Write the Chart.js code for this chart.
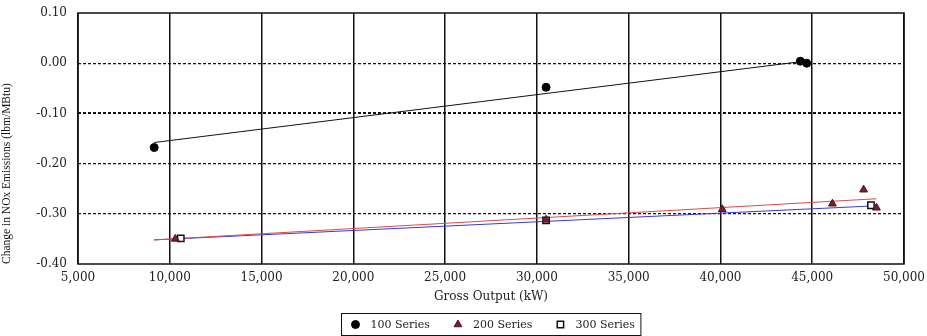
<!DOCTYPE html>
<html>
<head>
<meta charset="utf-8">
<script src="https://cdn.jsdelivr.net/npm/chart.js@4.4.1/dist/chart.umd.min.js"></script>
<style>
  html, body { margin: 0; padding: 0; background: #fff; }
  #wrap { width: 927px; height: 336px; }
</style>
</head>
<body>
<div id="wrap"><canvas id="noxChart" width="927" height="336"></canvas></div>
<script>
/* data */
const s100X = [9150, 30500, 44350, 44700];
const s100Y = [-0.168, -0.048, 0.004, 0.000];
const s200X = [10300, 30500, 40100, 46100, 47800, 48500];
const s200Y = [-0.350, -0.312, -0.291, -0.280, -0.252, -0.288];
const s300X = [10600, 30500, 48200];
const s300Y = [-0.349, -0.313, -0.283];

/* trend line end points */
const t100X = [9150, 44800];
const t100Y = [-0.158, 0.005];
const t200X = [9150, 48500];
const t200Y = [-0.352, -0.270];
const t300X = [9150, 48500];
const t300Y = [-0.352, -0.284];

const xTicks = [5000, 10000, 15000, 20000, 25000, 30000, 35000, 40000, 45000, 50000];
const yTicks = [0.10, 0.00, -0.10, -0.20, -0.30, -0.40];

const pts = (xs, ys) => xs.map((x, i) => ({ x: x, y: ys[i] }));

const serif = "'DejaVu Serif', serif";
const ink = '#222';

/* box around the plot area */
const frame = {
  id: 'frame',
  beforeDatasetsDraw(chart) {
    const a = chart.chartArea, ctx = chart.ctx;
    ctx.save();
    ctx.strokeStyle = '#111';
    ctx.lineWidth = 1.5;
    ctx.strokeRect(a.left, a.top, a.right - a.left, a.bottom - a.top);
    ctx.restore();
  }
};

/* boxed legend under the axis title */
const boxLegend = {
  id: 'boxLegend',
  afterDraw(chart) {
    const ctx = chart.ctx;
    const items = chart.data.datasets.filter(d => d.showInLegend);
    ctx.save();
    ctx.font = '11px ' + serif;
    const gapMark = 15, gapItem = 28, padL = 14, padR = 6;
    let total = padL + padR;
    items.forEach((d, i) => {
      total += gapMark + ctx.measureText(d.label).width;
      if (i < items.length - 1) total += gapItem;
    });
    const cx = (chart.chartArea.left + chart.chartArea.right) / 2;
    const left = Math.round(cx - total / 2) + 0.5, top = 313.5, h = 22;
    ctx.strokeStyle = '#111';
    ctx.lineWidth = 1;
    ctx.strokeRect(left, top, total, h);
    let x = left + padL;
    const y = top + h / 2;
    items.forEach(d => {
      ctx.fillStyle = d.backgroundColor;
      ctx.strokeStyle = d.borderColor;
      ctx.lineWidth = d.pointBorderWidth || 1;
      Chart.helpers.drawPoint(ctx, { pointStyle: d.pointStyle, radius: d.pointRadius, rotation: 0, borderWidth: ctx.lineWidth }, x, y);
      ctx.fillStyle = ink;
      ctx.textBaseline = 'middle';
      ctx.textAlign = 'left';
      ctx.fillText(d.label, x + gapMark, y + 1);
      x += gapMark + ctx.measureText(d.label).width + gapItem;
    });
    ctx.restore();
  }
};

const trend = (xs, ys, color) => ({
  type: 'line',
  data: pts(xs, ys),
  borderColor: color,
  borderWidth: 1,
  pointRadius: 0,
  fill: false,
  order: 2
});

new Chart(document.getElementById('noxChart'), {
  type: 'scatter',
  data: {
    datasets: [
      {
        label: '100 Series', showInLegend: true,
        data: pts(s100X, s100Y),
        pointStyle: 'circle', pointRadius: 4,
        backgroundColor: '#000', borderColor: '#000', pointBorderWidth: 1,
        order: 0
      },
      {
        label: '200 Series', showInLegend: true,
        data: pts(s200X, s200Y),
        pointStyle: 'triangle', pointRadius: 4.5,
        backgroundColor: '#7a1c3a', borderColor: '#4a1020', pointBorderWidth: 1,
        order: 0
      },
      {
        label: '300 Series', showInLegend: true,
        data: pts(s300X, s300Y),
        pointStyle: 'rect', pointRadius: 4.5,
        backgroundColor: '#fff', borderColor: '#111', pointBorderWidth: 1.5,
        order: 1
      },
      trend(t100X, t100Y, '#111'),
      trend(t200X, t200Y, '#dd4a4a'),
      trend(t300X, t300Y, '#3a3ad0')
    ]
  },
  plugins: [frame, boxLegend],
  options: {
    responsive: false,
    animation: false,
    layout: { padding: { top: 13, right: 23, bottom: 28, left: 0 } },
    plugins: {
      legend: { display: false },
      tooltip: { enabled: false }
    },
    scales: {
      x: {
        type: 'linear',
        min: 5000, max: 50000,
        afterBuildTicks: s => { s.ticks = xTicks.map(v => ({ value: v })); },
        afterFit: s => { s.height = 44; s.paddingLeft = 0; s.paddingRight = 0; },
        grid: {
          color: '#111', lineWidth: 1.5, drawTicks: false
        },
        border: { display: false },
        ticks: {
          color: ink, padding: 7, maxRotation: 0,
          font: { family: serif, size: 12 },
          callback: v => v.toLocaleString('en-US')
        },
        title: {
          display: true, text: 'Gross Output (kW)', color: ink,
          font: { family: serif, size: 12 },
          padding: { top: 0, bottom: 4 }
        }
      },
      y: {
        type: 'linear',
        min: -0.4, max: 0.1,
        afterBuildTicks: s => { s.ticks = yTicks.map(v => ({ value: v })); },
        afterFit: s => { s.width = 78; s.paddingTop = 0; s.paddingBottom = 0; },
        grid: {
          drawTicks: false,
          color: c => (c.tick && (c.tick.value > 0.05 || c.tick.value < -0.35)) ? 'rgba(0,0,0,0)' : '#111',
          lineWidth: c => (c.tick && Math.abs(c.tick.value + 0.1) < 0.001) ? 2 : 1.2
        },
        border: { display: false, dash: [3, 2] },
        ticks: {
          color: ink, padding: 11,
          font: { family: serif, size: 12 },
          callback: v => v.toFixed(2)
        },
        title: {
          display: true, text: 'Change in NOx Emissions (lbm/MBtu)', color: '#111',
          align: 'start',
          font: { family: "'Liberation Serif', serif", size: 11.5 },
          padding: { top: 0, bottom: 6 }
        }
      }
    }
  }
});
</script>
</body>
</html>
